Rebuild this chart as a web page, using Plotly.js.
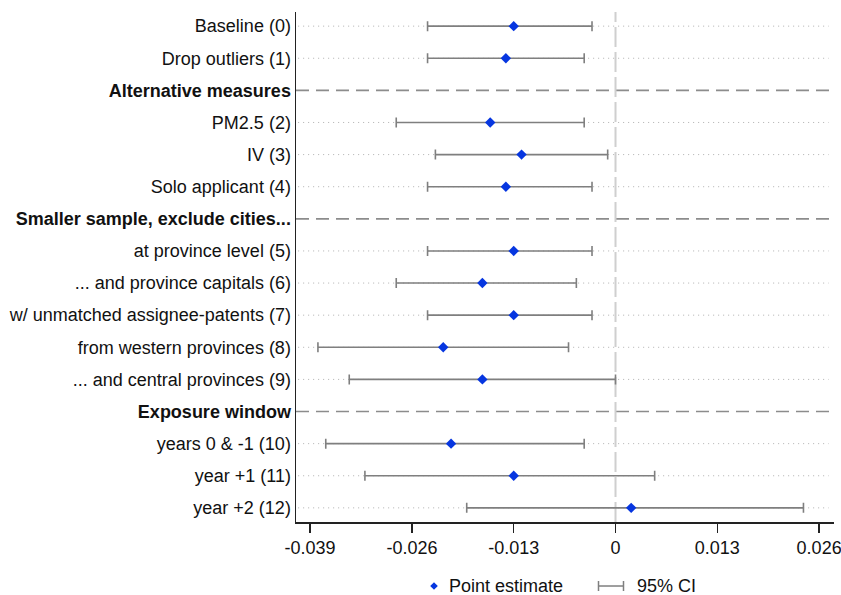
<!DOCTYPE html>
<html>
<head>
<meta charset="utf-8">
<script src="https://cdn.plot.ly/plotly-3.0.1.min.js"></script>
<style>html,body{margin:0;padding:0;background:#fff;}#chart{width:841px;height:595px;}</style>
</head>
<body>
<div id="chart"></div>
<script>
const labels = [
  "Baseline (0)",
  "Drop outliers (1)",
  "Alternative measures",
  "PM2.5 (2)",
  "IV (3)",
  "Solo applicant (4)",
  "Smaller sample, exclude cities...",
  "at province level (5)",
  "... and province capitals (6)",
  "w/ unmatched assignee-patents (7)",
  "from western provinces (8)",
  "... and central provinces (9)",
  "Exposure window",
  "years 0 & -1 (10)",
  "year +1 (11)",
  "year +2 (12)"
];
const isHeader = [false,false,true,false,false,false,true,false,false,false,false,false,true,false,false,false];
const estimate = [-0.013,-0.014,null,-0.016,-0.012,-0.014,null,-0.013,-0.017,-0.013,-0.022,-0.017,null,-0.021,-0.013,0.002];
const ciLow    = [-0.024,-0.024,null,-0.028,-0.023,-0.024,null,-0.024,-0.028,-0.024,-0.038,-0.034,null,-0.037,-0.032,-0.019];
const ciHigh   = [-0.003,-0.004,null,-0.004,-0.001,-0.003,null,-0.003,-0.005,-0.003,-0.006,0.000,null,-0.004,0.005,0.024];
const xTicks = [-0.039,-0.026,-0.013,0,0.013,0.026];
const xTickLabels = ["-0.039","-0.026","-0.013","0","0.013","0.026"];
const legendLabels = ["Point estimate", "95% CI"];

const rows = labels.map((_, i) => i);
const plus = estimate.map((e, i) => e === null ? null : ciHigh[i] - e);
const minus = estimate.map((e, i) => e === null ? null : e - ciLow[i]);
const tickText = labels.map((l, i) => isHeader[i] ? "<b>" + l + "</b>" : l);

const BLUE = "#0636e0";
const GRAY = "#7f7f7f";

const trace = {
  type: "scatter",
  mode: "markers",
  x: estimate,
  y: rows,
  marker: {symbol: "diamond", size: 8, color: BLUE},
  error_x: {type: "data", symmetric: false, array: plus, arrayminus: minus,
            color: GRAY, thickness: 1.6, width: 5},
  showlegend: false,
  hoverinfo: "skip"
};

const shapes = [];
rows.forEach(i => {
  if (isHeader[i]) {
    shapes.push({type: "line", xref: "paper", yref: "y", x0: 0, x1: 1, y0: i, y1: i,
      line: {color: "#8c8c8c", width: 1.6, dash: "13px,7px"}, layer: "below"});
  } else {
    shapes.push({type: "line", xref: "paper", yref: "y", x0: 0.004, x1: 0.99, y0: i, y1: i,
      line: {color: "#b0b0b0", width: 1, dash: "1px,4px"}, layer: "below"});
  }
});
shapes.push({type: "line", xref: "x", yref: "paper", x0: 0, x1: 0, y0: 0, y1: 1,
  line: {color: "#cfcfcf", width: 2, dash: "20px,5px"}, layer: "below"});

// custom legend (paper coords)
const ly = -0.1255;
const dx = 3.8/538, dy = 3.8/510;
const lx = 138/538;
shapes.push({type: "path", xref: "paper", yref: "paper",
  path: `M ${lx-dx},${ly} L ${lx},${ly+dy} L ${lx+dx},${ly} L ${lx},${ly-dy} Z`,
  fillcolor: BLUE, line: {color: BLUE, width: 0}});
const c0 = 302.5/538, c1 = 327.5/538, ch = 5/510;
shapes.push({type: "line", xref: "paper", yref: "paper", x0: c0, x1: c1, y0: ly, y1: ly, line: {color: GRAY, width: 1.5}});
shapes.push({type: "line", xref: "paper", yref: "paper", x0: c0, x1: c0, y0: ly-ch, y1: ly+ch, line: {color: GRAY, width: 1.5}});
shapes.push({type: "line", xref: "paper", yref: "paper", x0: c1, x1: c1, y0: ly-ch, y1: ly+ch, line: {color: GRAY, width: 1.5}});

const annotations = [
  {xref: "paper", yref: "paper", x: 152/538, y: ly, text: legendLabels[0], showarrow: false,
   borderpad: 0, xanchor: "left", yanchor: "middle", font: {size: 18, color: "#111"}},
  {xref: "paper", yref: "paper", x: 340/538, y: ly, text: legendLabels[1], showarrow: false,
   borderpad: 0, xanchor: "left", yanchor: "middle", font: {size: 18, color: "#111"}}
];

const layout = {
  width: 841, height: 595,
  margin: {l: 296, r: 7, t: 12, b: 73, pad: 0},
  paper_bgcolor: "#fff", plot_bgcolor: "#fff",
  font: {family: "Liberation Sans, Arial, sans-serif", size: 18, color: "#111"},
  showlegend: false,
  xaxis: {
    range: [-0.0408, 0.0279], tickvals: xTicks, ticktext: xTickLabels,
    showgrid: false, zeroline: false, showline: true, linecolor: "#222", linewidth: 1.5,
    ticks: "outside", ticklen: 9, tickwidth: 1.5, tickcolor: "#222",
    ticklabeloverflow: "allow",
    tickfont: {size: 18, color: "#111"}
  },
  yaxis: {
    range: [15.44, -0.44], tickvals: rows, ticktext: tickText,
    showgrid: false, zeroline: false, showline: true, linecolor: "#222", linewidth: 1.5,
    ticks: "", ticklabeloverflow: "allow", tickfont: {size: 18, color: "#111"}
  },
  shapes: shapes,
  annotations: annotations
};

Plotly.newPlot("chart", [trace], layout, {displayModeBar: false, staticPlot: true});
</script>
</body>
</html>
